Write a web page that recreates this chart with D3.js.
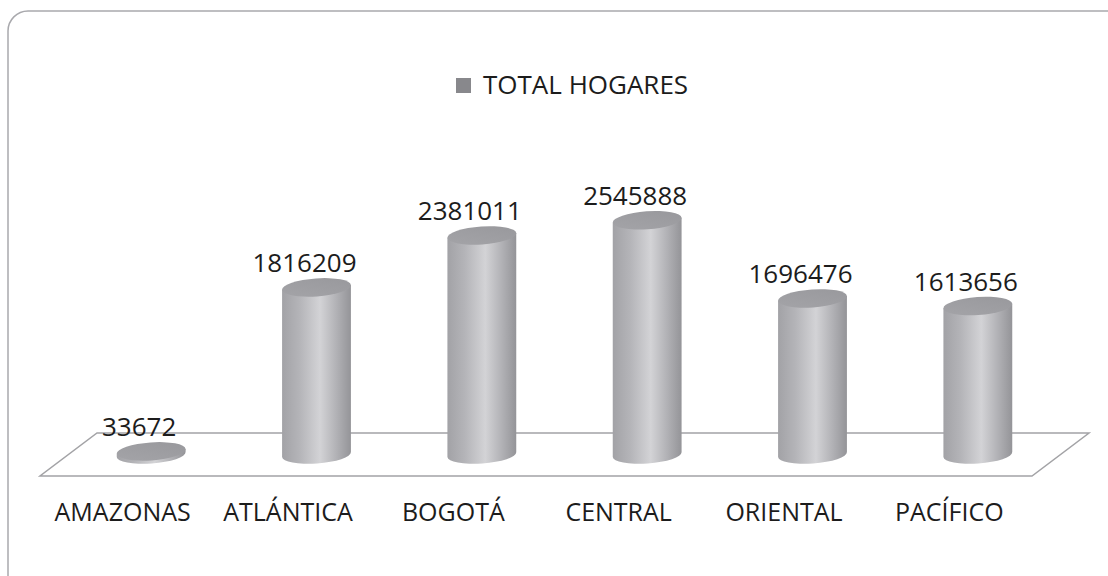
<!DOCTYPE html>
<html>
<head>
<meta charset="utf-8">
<script src="https://cdn.jsdelivr.net/npm/d3@7"></script>
<style>
  body { margin: 0; background: #fff; }
  text { font-family: "Open Sans", sans-serif; fill: #1c1c1c; }
</style>
</head>
<body>
<div id="chart"></div>
<script>
// data
let regions = ["AMAZONAS", "ATLÁNTICA", "BOGOTÁ", "CENTRAL", "ORIENTAL", "PACÍFICO"];
let hogares = [33672, 1816209, 2381011, 2545888, 1696476, 1613656];
let seriesName = "TOTAL HOGARES";

let width = 1108, height = 576;

let svg = d3.select("#chart")
    .append("svg")
    .attr("width", width)
    .attr("height", height);

// outer rounded frame (runs off the right/bottom edge)
svg.append("rect")
    .attr("x", 8).attr("y", 11)
    .attr("width", 1120).attr("height", 600)
    .attr("rx", 20)
    .attr("fill", "none")
    .attr("stroke", "#a9a9ad")
    .attr("stroke-width", 1.5);

// floor geometry: front edge + depth skew
let floorFront = 476, depthX = 57, depthY = -43;

let x = d3.scaleBand()
    .domain(regions)
    .range([40, 1032]);

let y = d3.scaleLinear()
    .domain([0, 3000000])
    .range([0, 276]);

// floor parallelogram
let x0 = x.range()[0], x1 = x.range()[1];
svg.append("path")
    .attr("d", `M${x0},${floorFront} L${x1},${floorFront} L${x1 + depthX},${floorFront + depthY} L${x0 + depthX},${floorFront + depthY} Z`)
    .attr("fill", "none")
    .attr("stroke", "#a3a3a6")
    .attr("stroke-width", 1.5);

// gradients
let defs = svg.append("defs");
let body = defs.append("linearGradient").attr("id", "cylBody")
    .attr("x1", "0%").attr("x2", "100%").attr("y1", "0%").attr("y2", "0%");
[["0%", "#a2a2a6"], ["25%", "#b4b4b8"], ["55%", "#d3d3d6"], ["80%", "#b0b0b4"], ["100%", "#949498"]]
    .forEach(s => body.append("stop").attr("offset", s[0]).attr("stop-color", s[1]));

let topG = defs.append("linearGradient").attr("id", "cylTop")
    .attr("x1", "0%").attr("x2", "100%").attr("y1", "100%").attr("y2", "0%");
[["0%", "#a4a4a8"], ["100%", "#98989c"]]
    .forEach(s => topG.append("stop").attr("offset", s[0]).attr("stop-color", s[1]));

// cylinders
let rx = 34.5, ry = 9, rot = -4;
let sinR = Math.sin(rot * Math.PI / 180), cosR = Math.cos(rot * Math.PI / 180);
let baseY = floorFront + depthY / 2;
let cx = d => x(d.region) + x.bandwidth() / 2 + depthX / 2;

let data = regions.map((r, i) => ({ region: r, value: hogares[i] }));

let cyl = svg.append("g").selectAll("g")
    .data(data)
    .enter()
    .append("g");

cyl.append("path")
    .attr("d", d => {
        let c = cx(d), top = baseY - y(d.value);
        let lx = c - rx * cosR, rxp = c + rx * cosR;
        let ly = -rx * sinR, ryp = rx * sinR;
        return `M${lx},${baseY + ly} L${lx},${top + ly} L${rxp},${top + ryp} L${rxp},${baseY + ryp}` +
            ` A${rx},${ry} ${rot} 0 1 ${lx},${baseY + ly} Z`;
    })
    .attr("fill", "url(#cylBody)");

cyl.append("ellipse")
    .attr("cx", 0).attr("cy", 0)
    .attr("rx", rx).attr("ry", ry)
    .attr("transform", d => `translate(${cx(d)},${baseY - y(d.value)}) rotate(${rot})`)
    .attr("fill", "url(#cylTop)");

// value labels
cyl.append("text")
    .attr("x", d => cx(d) - 12)
    .attr("y", d => baseY - y(d.value) - 15)
    .attr("text-anchor", "middle")
    .attr("font-size", 26)
    .text(d => d.value);

// category labels
svg.append("g").selectAll("text")
    .data(regions)
    .enter()
    .append("text")
    .attr("x", d => x(d) + x.bandwidth() / 2)
    .attr("y", 521)
    .attr("text-anchor", "middle")
    .attr("font-size", 25)
    .text(d => d);

// legend
svg.append("rect")
    .attr("x", 456).attr("y", 78)
    .attr("width", 15).attr("height", 15)
    .attr("fill", "#88888c");
svg.append("text")
    .attr("x", 483).attr("y", 94)
    .attr("font-size", 26)
    .text(seriesName);
</script>
</body>
</html>
